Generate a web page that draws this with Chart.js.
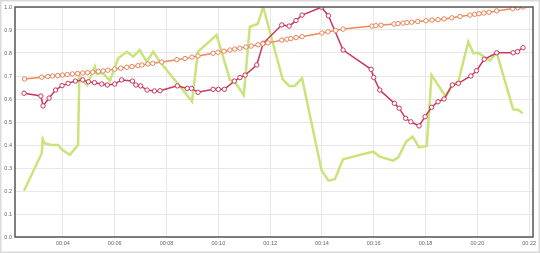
<!DOCTYPE html>
<html>
<head>
<meta charset="utf-8">
<script src="https://cdn.jsdelivr.net/npm/chart.js@4"></script>
<style>
  html, body { margin: 0; padding: 0; background: #fff; }
  #chart { display: block; }
</style>
</head>
<body>
<canvas id="chart" width="540" height="253"></canvas>
<script>
// x axis tick labels (mm:ss time), y ticks
const timeTicks = ["00:04", "00:06", "00:08", "00:10", "00:12", "00:14", "00:16", "00:18", "00:20", "00:22"];
const yTicks = [0.0, 0.1, 0.2, 0.3, 0.4, 0.5, 0.6, 0.7, 0.8, 0.9, 1.0];

// orange series
const orangeTimes = ["02:31","03:11","03:25","03:36","03:48","03:59","04:10","04:22","04:34","04:46","04:57","05:09","05:22","05:33",
    "05:44","06:00","06:14","06:28","06:40","06:54","07:03","07:17","07:28","07:49","08:24","08:43",
    "08:59","09:13","09:48","09:59","10:13","10:27","10:38","10:50","11:04","11:16","11:32","11:43","11:55",
    "12:27","12:39","12:48","13:00","13:14","14:00","14:14","14:32","14:49",
    "15:56","16:05","16:17","16:47","16:56","17:08","17:17","17:28","17:42","18:01","18:15","18:29","18:43",
    "19:01","19:20","19:43","19:54","20:04","20:15","20:27","20:45","21:22","21:34","21:46"];
const orangeValues = [0.687,0.695,0.698,0.700,0.702,0.704,0.706,0.709,0.711,0.713,0.715,0.717,0.720,0.722,
    0.725,0.730,0.734,0.738,0.741,0.745,0.748,0.752,0.755,0.761,0.771,0.776,
    0.782,0.787,0.799,0.803,0.808,0.813,0.817,0.821,0.826,0.830,0.836,0.840,0.844,
    0.856,0.860,0.863,0.867,0.871,0.887,0.892,0.898,0.904,
    0.917,0.919,0.921,0.926,0.928,0.930,0.932,0.934,0.937,0.940,0.943,0.945,0.948,
    0.953,0.959,0.965,0.968,0.971,0.974,0.977,0.983,0.993,0.997,1.000];

// red series
const redTimes = ["02:30","03:09","03:14","03:28","03:43","03:58","04:12","04:29","04:46","04:59",
    "05:13","05:30","05:43","06:00","06:16","06:41","06:49","07:00","07:15","07:32",
    "07:45","08:25","08:48","08:58","09:13","09:48","10:00","10:14","10:37","10:50",
    "11:02","11:29","11:44","12:27","12:44","13:00","13:14","13:59","14:15","14:49",
    "15:54","16:00","16:14","16:48","16:59","17:14","17:26","17:45","17:59","18:14",
    "18:29","18:43","19:02","19:16","19:45","19:58","20:16","20:45","21:23","21:33","21:46"];
const redValues = [0.625,0.613,0.570,0.604,0.639,0.658,0.668,0.678,0.683,0.675,
    0.671,0.665,0.661,0.665,0.683,0.678,0.661,0.657,0.639,0.635,
    0.636,0.657,0.646,0.646,0.629,0.642,0.642,0.642,0.678,0.693,
    0.704,0.748,0.842,0.922,0.917,0.941,0.965,0.999,0.962,0.813,
    0.729,0.694,0.639,0.581,0.560,0.516,0.501,0.483,0.523,0.564,
    0.588,0.600,0.661,0.668,0.700,0.723,0.773,0.801,0.801,0.806,0.823];

// green series
const greenTimes = ["02:30","03:11","03:13","03:18","03:34","03:49","03:57","04:16","04:35","04:38",
    "04:43","04:56","05:14","05:18","05:33","05:49","06:08","06:28","06:43","06:58",
    "07:14","07:29","07:45","08:59","09:13","09:56","10:27","10:38","10:59","11:13",
    "11:31","11:44","12:29","12:44","12:57","13:14","13:59","14:15","14:30","14:49",
    "15:28","15:59","16:14","16:45","16:57","17:15","17:30","17:45","18:03","18:14",
    "18:47","19:01","19:16","19:39","19:51","20:02","20:29","20:45","21:23","21:35","21:45"];
const greenValues = [0.201,0.364,0.426,0.407,0.400,0.400,0.381,0.357,0.400,0.700,
    0.686,0.661,0.740,0.709,0.712,0.680,0.777,0.805,0.784,0.813,
    0.762,0.805,0.762,0.590,0.806,0.878,0.683,0.675,0.617,0.914,
    0.926,1.000,0.686,0.657,0.657,0.690,0.291,0.245,0.251,0.338,
    0.357,0.371,0.349,0.332,0.346,0.414,0.436,0.390,0.396,0.704,
    0.610,0.661,0.675,0.849,0.799,0.801,0.767,0.801,0.555,0.552,0.538];

function toSec(t) {
    const p = t.split(":");
    return parseInt(p[0], 10) * 60 + parseInt(p[1], 10);
}

function points(times, values) {
    return times.map((t, i) => ({ x: toSec(t), y: values[i] }));
}

const tickFont = { family: "'Liberation Sans', Arial, sans-serif", size: 5.5 };

// light outer frame + dark box round the plot
const framePlugin = {
    id: "frame",
    beforeDraw(chart) {
        const c = chart.ctx;
        c.save();
        c.fillStyle = "#fff";
        c.fillRect(0, 0, chart.width, chart.height);
        c.strokeStyle = "#dadada";
        c.lineWidth = 3;
        c.strokeRect(0, 0, chart.width, chart.height);
        c.restore();
    },
    afterDraw(chart) {
        const a = chart.chartArea;
        const c = chart.ctx;
        c.save();
        c.strokeStyle = "#555";
        c.lineWidth = 1.5;
        c.strokeRect(a.left, a.top, a.right - a.left, a.bottom - a.top);
        c.restore();
    }
};

new Chart(document.getElementById("chart"), {
    type: "line",
    data: {
        datasets: [
            {
                label: "orange",
                data: points(orangeTimes, orangeValues),
                borderColor: "#ec8a55",
                borderWidth: 1.5,
                pointRadius: 2.2,
                pointBorderWidth: 1,
                pointBackgroundColor: "#fff",
                pointBorderColor: "#e8845a",
                tension: 0,
                order: 1
            },
            {
                label: "red",
                data: points(redTimes, redValues),
                borderColor: "#c8385e",
                borderWidth: 1.5,
                pointRadius: 2.2,
                pointBorderWidth: 1,
                pointBackgroundColor: "#fff",
                pointBorderColor: "#c8385e",
                tension: 0,
                order: 2
            },
            {
                label: "green",
                data: points(greenTimes, greenValues),
                borderColor: "#c8e47a",
                borderWidth: 2.5,
                pointRadius: 0,
                tension: 0,
                order: 3
            }
        ]
    },
    options: {
        responsive: false,
        animation: false,
        layout: { padding: { top: 7, right: 7, left: 0, bottom: 0 } },
        plugins: {
            legend: { display: false },
            tooltip: { enabled: false }
        },
        scales: {
            x: {
                type: "linear",
                min: 129,
                max: 1329,
                afterBuildTicks(scale) {
                    scale.ticks = timeTicks.map(t => ({ value: toSec("00:00") + parseInt(t.split(":")[1], 10) * 60 }));
                },
                afterFit(scale) { scale.height = 16; },
                ticks: {
                    autoSkip: false,
                    maxRotation: 0,
                    padding: 3,
                    color: "#666",
                    font: tickFont,
                    callback: (v) => timeTicks[timeTicks.findIndex(t => parseInt(t.split(":")[1], 10) * 60 === v)]
                },
                grid: { color: "#e8e8e8", drawTicks: false },
                border: { display: false }
            },
            y: {
                min: 0,
                max: 1,
                afterBuildTicks(scale) {
                    scale.ticks = yTicks.map(v => ({ value: v }));
                },
                afterFit(scale) { scale.width = 15; },
                ticks: {
                    padding: 3,
                    color: "#666",
                    font: tickFont,
                    callback: (v) => v.toFixed(1)
                },
                grid: { color: "#e8e8e8", drawTicks: false },
                border: { display: false }
            }
        }
    },
    plugins: [framePlugin]
});
</script>
</body>
</html>
